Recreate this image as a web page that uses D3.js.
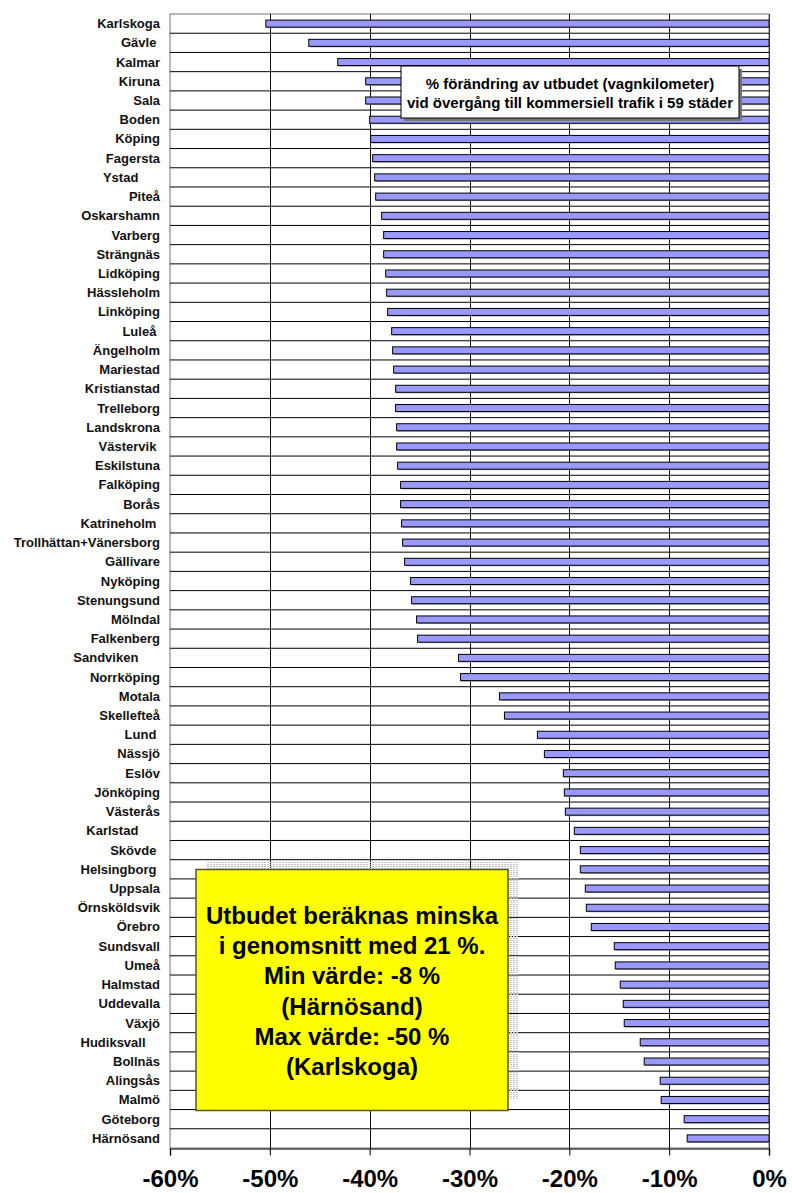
<!DOCTYPE html>
<html>
<head>
<meta charset="utf-8">
<script src="https://cdn.jsdelivr.net/npm/d3@7"></script>
<style>
  html, body { margin: 0; padding: 0; background: #fff; }
  svg { display: block; font-family: Arial, "Liberation Sans", Helvetica, sans-serif; }
</style>
</head>
<body>
<svg id="chart" width="792" height="1193"></svg>
<script>
// Cities (top to bottom); some source labels carry trailing spaces
const categories = [
  "Karlskoga", "Gävle ", "Kalmar", "Kiruna", "Sala", "Boden", "Köping", "Fagersta",
  "Ystad      ", "Piteå", "Oskarshamn", "Varberg", "Strängnäs", "Lidköping", "Hässleholm",
  "Linköping", "Luleå ", "Ängelholm", "Mariestad", "Kristianstad", "Trelleborg",
  "Landskrona", "Västervik ", "Eskilstuna", "Falköping", "Borås", "Katrineholm ",
  "Trollhättan+Vänersborg", "Gällivare", "Nyköping", "Stenungsund", "Mölndal",
  "Falkenberg", "Sandviken      ", "Norrköping", "Motala", "Skellefteå", "Lund ", "Nässjö",
  "Eslöv", "Jönköping", "Västerås", "Karlstad      ", "Skövde ", "Helsingborg ", "Uppsala",
  "Örnsköldsvik", "Örebro", "Sundsvall", "Umeå", "Halmstad", "Uddevalla", "Växjö",
  "Hudiksvall    ", "Bollnäs", "Alingsås", "Malmö", "Göteborg", "Härnösand"
];

// % change in service (vehicle-km)
const values = [
  -50.4, -46.1, -43.2, -40.4, -40.4, -40.0, -39.9, -39.7, -39.5, -39.4,
  -38.8, -38.6, -38.6, -38.4, -38.3, -38.2, -37.8, -37.7, -37.6, -37.4,
  -37.4, -37.3, -37.3, -37.2, -36.9, -36.9, -36.8, -36.7, -36.5, -35.9,
  -35.8, -35.3, -35.2, -31.1, -30.9, -27.0, -26.5, -23.2, -22.5, -20.6,
  -20.5, -20.4, -19.5, -18.9, -18.9, -18.4, -18.3, -17.8, -15.5, -15.4,
  -14.9, -14.6, -14.5, -12.9, -12.5, -10.9, -10.8, -8.5, -8.2
];

const xTicks = [-60, -50, -40, -30, -20, -10, 0];
const tickLabels = ["-60%", "-50%", "-40%", "-30%", "-20%", "-10%", "0%"];

const titleLines = [
  "% förändring av utbudet (vagnkilometer)",
  "vid övergång till kommersiell trafik i 59 städer"
];
const averageChange = 21;

const data = categories.map((c, i) => ({ city: c, value: values[i] }));

const svg = d3.select("#chart");

const x = d3.scaleLinear().domain([-60, 0]).range([170, 769]);
const y = d3.scaleBand().domain(categories).range([14, 1148]);
const px = v => Math.round(x(v)) + 0.5;

// Plot frame
const plot = svg.append("g");
plot.append("rect")
  .attr("x", x(-60)).attr("y", 14)
  .attr("width", x(0) - x(-60)).attr("height", 1148 - 14)
  .attr("fill", "#fff").attr("stroke", "#777").attr("stroke-width", 1);

// Row separators
plot.selectAll("line.row")
  .data(categories.slice(1))
  .join("line")
  .attr("class", "row")
  .attr("x1", x(-60)).attr("x2", x(0))
  .attr("y1", d => y(d)).attr("y2", d => y(d))
  .attr("stroke", "#000").attr("stroke-width", 1);

// Vertical gridlines
plot.selectAll("line.grid")
  .data(xTicks.slice(1, -1))
  .join("line")
  .attr("class", "grid")
  .attr("x1", px).attr("x2", px)
  .attr("y1", 14).attr("y2", 1148)
  .attr("stroke", "#111").attr("stroke-width", 1);

// Bars
const barH = 7;
const bars = svg.append("g");
bars.selectAll("rect.shadow")
  .data(data)
  .join("rect")
  .attr("class", "shadow")
  .attr("x", d => x(d.value) + 1)
  .attr("y", d => y(d.city) + y.bandwidth() / 2 - barH / 2 + 1)
  .attr("width", d => x(0) - x(d.value))
  .attr("height", barH)
  .attr("fill", "#9a9a9a");
bars.selectAll("rect.bar")
  .data(data)
  .join("rect")
  .attr("class", "bar")
  .attr("x", d => x(d.value))
  .attr("y", d => y(d.city) + y.bandwidth() / 2 - barH / 2)
  .attr("width", d => x(0) - x(d.value))
  .attr("height", barH)
  .attr("fill", "#9999ff")
  .attr("stroke", "#000").attr("stroke-width", 1);

// Right edge and bottom axis
svg.append("line")
  .attr("x1", px(0)).attr("x2", px(0)).attr("y1", 14).attr("y2", 1148)
  .attr("stroke", "#333");
const axis = d3.axisBottom(x)
  .tickValues(xTicks)
  .tickSize(7)
  .tickFormat((d, i) => tickLabels[i]);
const gAxis = svg.append("g")
  .attr("transform", "translate(0,1148.5)")
  .call(axis);
gAxis.select(".domain").attr("stroke", "#444").attr("stroke-width", 1.5);
gAxis.selectAll(".tick line").attr("stroke", "#000");
gAxis.selectAll(".tick text")
  .attr("y", 38)
  .attr("dy", null)
  .attr("fill", "#000")
  .style("font-family", "Arial, 'Liberation Sans', sans-serif")
  .style("font-size", "24px")
  .style("font-weight", "bold");

// City labels
svg.append("g")
  .selectAll("text")
  .data(data)
  .join("text")
  .attr("x", 160)
  .attr("y", d => y(d.city) + y.bandwidth() / 2 + 4.5)
  .attr("text-anchor", "end")
  .attr("xml:space", "preserve")
  .style("white-space", "pre")
  .style("font-size", "13px")
  .style("font-weight", "bold")
  .attr("fill", "#111")
  .text(d => d.city);

// Title box
const tb = { x: 401, y: 66, w: 338, h: 52 };
svg.append("rect")
  .attr("x", tb.x + 3).attr("y", tb.y + 3).attr("width", tb.w).attr("height", tb.h)
  .attr("fill", "#777");
svg.append("rect")
  .attr("x", tb.x).attr("y", tb.y).attr("width", tb.w).attr("height", tb.h)
  .attr("fill", "#fff").attr("stroke", "#000").attr("stroke-width", 1);
svg.append("g")
  .selectAll("text")
  .data(titleLines)
  .join("text")
  .attr("x", tb.x + tb.w / 2)
  .attr("y", (d, i) => 88.5 + i * 19)
  .attr("text-anchor", "middle")
  .style("font-size", "15px")
  .style("font-weight", "bold")
  .attr("fill", "#000")
  .text(d => d);

// Summary note box
const defs = svg.append("defs");
const pat = defs.append("pattern")
  .attr("id", "dots")
  .attr("patternUnits", "userSpaceOnUse")
  .attr("width", 3).attr("height", 2);
pat.append("rect").attr("x", 0).attr("y", 0).attr("width", 2).attr("height", 1).attr("fill", "#c4c4c4");

const minItem = data.reduce((a, b) => (b.value < a.value ? b : a));
const maxItem = data.reduce((a, b) => (b.value > a.value ? b : a));
const fmt = v => `${Math.round(v)} %`;
const noteLines = [
  "Utbudet beräknas minska",
  `i genomsnitt med ${averageChange} %.`,
  `Min värde: ${fmt(maxItem.value)}`,
  `(${maxItem.city.trim()})`,
  `Max värde: ${fmt(minItem.value)}`,
  `(${minItem.city.trim()})`
];

const nb = { x: 196, y: 869.5, w: 312, h: 241 };
svg.append("rect")
  .attr("x", nb.x + 10).attr("y", nb.y - 8).attr("width", nb.w).attr("height", nb.h - 3)
  .attr("fill", "url(#dots)");
svg.append("rect")
  .attr("x", nb.x).attr("y", nb.y).attr("width", nb.w).attr("height", nb.h)
  .attr("fill", "#ffff00").attr("stroke", "#55552a").attr("stroke-width", 1.5);
svg.append("g")
  .selectAll("text")
  .data(noteLines)
  .join("text")
  .attr("x", nb.x + nb.w / 2)
  .attr("y", (d, i) => 924 + i * 30.2)
  .attr("text-anchor", "middle")
  .style("font-size", "24px")
  .style("font-weight", "bold")
  .attr("fill", "#000")
  .text(d => d);
</script>
</body>
</html>
